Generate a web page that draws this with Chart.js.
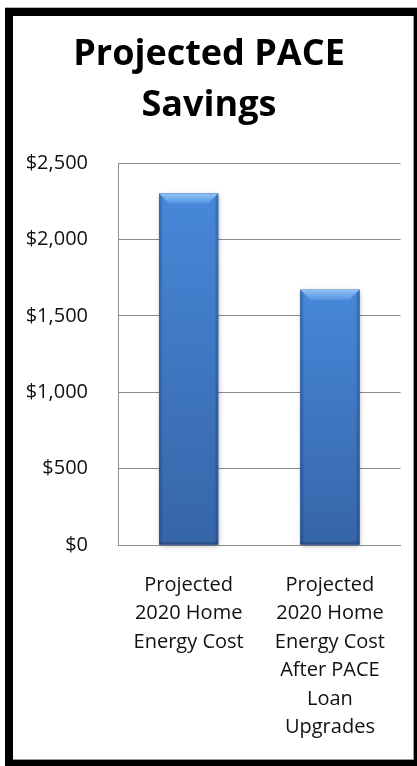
<!DOCTYPE html>
<html>
<head>
<meta charset="utf-8">
<script src="https://cdn.jsdelivr.net/npm/chart.js@4/dist/chart.umd.min.js"></script>
<style>
  html, body { margin: 0; padding: 0; background: #fff; width: 417px; height: 766px; overflow: hidden; position: relative; }
  #rule  { position: absolute; left: 5px; top: 7px; width: 412px; height: 1px; background: #b4b4b4; }
  #frame { position: absolute; left: 5px; top: 8px; width: 420px; height: 770px; background: #000; }
  #panel { position: absolute; left: 13px; top: 16px; width: 400px; height: 743px; background: #fff;
           border-right: 1px solid #9a9a9a; border-bottom: 1px solid #9a9a9a; }
  #panel canvas { display: block; }
</style>
</head>
<body>
<div id="rule"></div>
<div id="frame"></div>
<div id="panel"><canvas id="chart" width="400" height="743"></canvas></div>
<script>
// Chart content
const titleLines = ['Projected PACE', 'Savings'];
const categories = [
  ['Projected', '2020 Home', 'Energy Cost'],
  ['Projected', '2020 Home', 'Energy Cost', 'After PACE', 'Loan', 'Upgrades']
];
const homeEnergyCost = [2300, 1670];
const yTickValues = [0, 500, 1000, 1500, 2000, 2500];
const yTickLabels = ['$0', '$500', '$1,000', '$1,500', '$2,000', '$2,500'];

const FONT = "'Open Sans', 'Noto Sans', sans-serif";
const GRID = '#8c8c8c';
const TEXT = '#111';

// Bevelled, shaded look for the columns, laid over each bar rectangle
const bevelPlugin = {
  id: 'bevel',
  afterDatasetsDraw(chart) {
    const ctx = chart.ctx;
    chart.getDatasetMeta(0).data.forEach(bar => {
      const { x, y, base, width } = bar.getProps(['x', 'y', 'base', 'width'], true);
      const l = x - width / 2, r = x + width / 2, t = y, b = base, h = b - t;
      const d = 10;
      ctx.save();

      // soft drop shadow
      ctx.shadowColor = 'rgba(0,0,0,0.35)';
      ctx.shadowBlur = 5;
      ctx.shadowOffsetX = 1;
      ctx.shadowOffsetY = 1;
      ctx.fillStyle = '#3c72bb';
      ctx.fillRect(l, t, width, h);
      ctx.shadowColor = 'transparent';

      // body
      const g = ctx.createLinearGradient(0, t, 0, b);
      g.addColorStop(0, '#4788d9');
      g.addColorStop(1, '#3665a8');
      ctx.fillStyle = g;
      ctx.fillRect(l, t, width, h);

      // darker side edges
      const sg = ctx.createLinearGradient(l, 0, r, 0);
      sg.addColorStop(0, 'rgba(15,35,75,0.35)');
      sg.addColorStop(0.07, 'rgba(15,35,75,0)');
      sg.addColorStop(0.93, 'rgba(15,35,75,0)');
      sg.addColorStop(1, 'rgba(15,35,75,0.35)');
      ctx.fillStyle = sg;
      ctx.fillRect(l, t, width, h);

      // bottom rim
      const bg = ctx.createLinearGradient(0, b - 4, 0, b);
      bg.addColorStop(0, 'rgba(15,35,75,0)');
      bg.addColorStop(1, 'rgba(15,35,75,0.4)');
      ctx.fillStyle = bg;
      ctx.fillRect(l, b - 4, width, 4);

      // top bevel
      const tg = ctx.createLinearGradient(0, t, 0, t + d);
      tg.addColorStop(0, '#8fc2f5');
      tg.addColorStop(1, '#5594e0');
      ctx.beginPath();
      ctx.moveTo(l, t);
      ctx.lineTo(r, t);
      ctx.lineTo(r - d, t + d);
      ctx.lineTo(l + d, t + d);
      ctx.closePath();
      ctx.fillStyle = tg;
      ctx.fill();

      ctx.restore();
    });
  }
};

new Chart(document.getElementById('chart'), {
  type: 'bar',
  data: {
    labels: categories,
    datasets: [{
      data: homeEnergyCost,
      backgroundColor: '#3f78c4',
      borderWidth: 0,
      categoryPercentage: 1,
      barPercentage: 0.418
    }]
  },
  options: {
    responsive: false,
    animation: false,
    devicePixelRatio: 1,
    layout: { padding: { left: 0, right: 8, top: 0, bottom: 0 } },
    plugins: {
      legend: { display: false },
      tooltip: { enabled: false },
      title: {
        display: true,
        text: titleLines,
        color: '#000',
        font: { family: FONT, size: 36, weight: 'bold', lineHeight: 51 / 36 },
        padding: { top: 13, bottom: 32 }
      }
    },
    scales: {
      x: {
        grid: { display: false, drawTicks: false },
        border: { display: true, color: GRID, width: 1 },
        ticks: {
          color: TEXT,
          font: { family: FONT, size: 20, lineHeight: 28.5 / 20 },
          padding: 26,
          maxRotation: 0,
          autoSkip: false
        },
        afterFit(scale) { scale.height = 214; }
      },
      y: {
        min: 0,
        max: 2500,
        afterBuildTicks(scale) { scale.ticks = yTickValues.map(v => ({ value: v })); },
        grid: { color: GRID, lineWidth: 1, drawTicks: false },
        border: { display: true, color: GRID, width: 1 },
        ticks: {
          color: TEXT,
          font: { family: FONT, size: 20 },
          padding: 30,
          callback: (v) => yTickLabels[yTickValues.indexOf(v)]
        },
        afterFit(scale) { scale.width = 105; }
      }
    }
  },
  plugins: [bevelPlugin]
});
</script>
</body>
</html>
